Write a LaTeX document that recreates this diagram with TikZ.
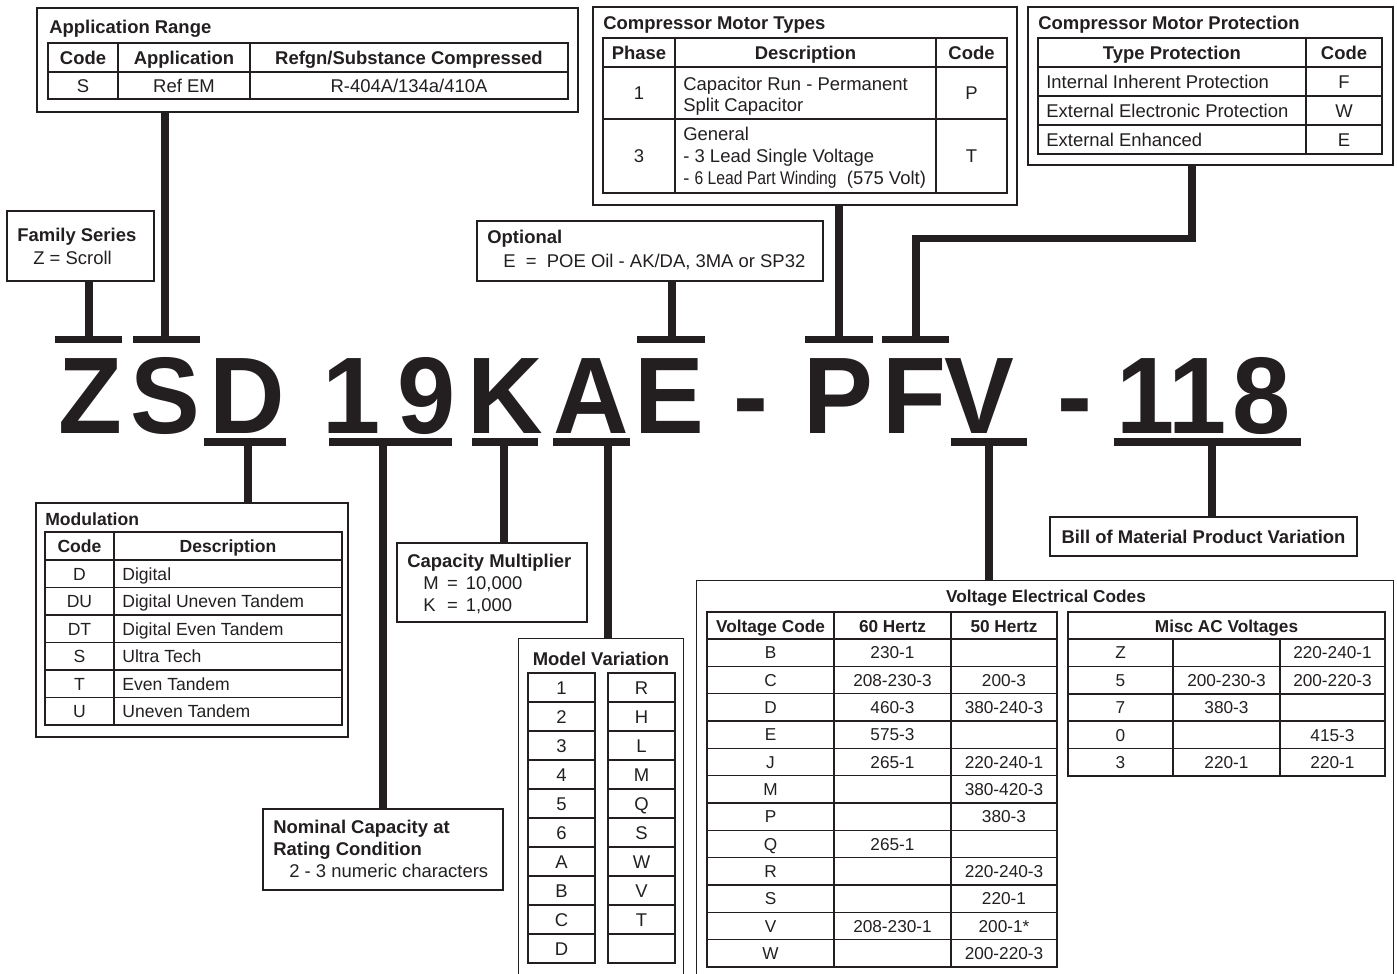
\documentclass[tikz,border=0pt]{standalone}
\usepackage{fontspec}
\setmainfont{Liberation Sans}
\newfontfamily\narrowfont[FakeStretch=0.85]{Liberation Sans}
\newfontfamily\partfont[FakeStretch=0.96]{Liberation Sans}
\usetikzlibrary{fit}
\definecolor{ink}{RGB}{35,31,32}
\newcommand{\normsize}{\fontsize{10.5}{12.6}\selectfont}
\newcommand{\modsize}{\fontsize{10}{12}\selectfont}
\newcommand{\voltsize}{\fontsize{9.8}{11.8}\selectfont}
\newcommand{\bigsize}{\partfont\fontsize{62}{62}\selectfont}
\tikzset{
  every node/.style={inner sep=0pt, text=ink},
  box/.style={draw=ink, line width=0.9pt, inner sep=0pt},
  tabline/.style={draw=ink, line width=0.9pt},
  lead/.style={draw=ink, line width=4.5pt},
  txt/.style={anchor=base west, font=\normsize},
  ttl/.style={anchor=base west, font=\normsize\bfseries},
  cell/.style={anchor=base, font=\normsize},
  hcell/.style={anchor=base, font=\normsize\bfseries},
  bigch/.style={anchor=base, font=\bigsize\bfseries}
}

\begin{document}
\begin{tikzpicture}[x=0.02cm, y=-0.02cm]
\useasboundingbox (0,0) rectangle (1397,974);
%
% model number
\foreach \ch/\cx [count=\i] in {Z/90,S/165,D/247.5,1/352,9/426.5,K/505.5,A/591,E/669.5,-/751,P/838.5,F/914,V/979.5,-/1075,1/1146,1/1198,8/1261.5}
  \node[bigch] (ch\i) at (\cx,433) {\ch};
%
\coordinate (tZ) at (89,339.5);
\coordinate (tS) at (165,339.5);
\coordinate (tE) at (672,339.5);
\coordinate (tP) at (839,339.5);
\coordinate (tF) at (916,339.5);
\coordinate (jog) at (1192,238.5);
\coordinate (uD) at (248,442);
\coordinate (u19) at (383,442);
\coordinate (uK) at (504,442);
\coordinate (uA) at (608,442);
\coordinate (uV) at (989,442);
\coordinate (u118) at (1212,442);
\foreach \a/\b in {55/122,133/200,637/705,805/873,882/949}
  \draw[lead] (\a,339.5) -- (\b,339.5);
\foreach \a/\b in {204/286,329/452,472/538,553/630,951/1027,1114/1301}
  \draw[lead] (\a,442) -- (\b,442);
%
% boxes
\node[box, fit={(37,8) (578,112)}] (apprange) {};
\node[box, fit={(593,7) (1017,205)}] (cmtypes) {};
\node[box, fit={(1028,7) (1393,165)}] (cmprot) {};
\node[box, fit={(7,211) (154,281)}] (family) {};
\node[box, fit={(477,221) (823,281)}] (optional) {};
\node[box, fit={(36,503) (348,737)}] (modul) {};
\node[box, fit={(397,543) (587,622)}] (capmult) {};
\node[box, fit={(263,809) (503,890)}] (nominal) {};
\node[box, fit={(1050,517) (1357,556)}] (bom) {};
\node[fit={(519,639) (683,974)}] (modvar) {};
\node[fit={(697,581) (1393,974)}] (voltage) {};
\draw[tabline] (modvar.south west) -- (modvar.north west) -- (modvar.north east) -- (modvar.south east);
\draw[tabline] (voltage.south west) -- (voltage.north west) -- (voltage.north east) -- (voltage.south east);
%
% leads
\draw[lead] (family.south -| tZ) -- (tZ);
\draw[lead] (apprange.south -| tS) -- (tS);
\draw[lead] (optional.south -| tE) -- (tE);
\draw[lead] (cmtypes.south -| tP) -- (tP);
\draw[lead] (cmprot.south -| jog) -- (jog) -| (tF);
\draw[lead] (uD) -- (uD |- modul.north);
\draw[lead] (u19) -- (u19 |- nominal.north);
\draw[lead] (uK) -- (uK |- capmult.north);
\draw[lead] (uA) -- (uA |- modvar.north);
\draw[lead] (uV) -- (uV |- voltage.north);
\draw[lead] (u118) -- (u118 |- bom.north);
%
% application range
\node[ttl] (app-t) at (49,33) {Application Range};
\draw[tabline] (48,43) rectangle (568,99) (48,72) -- (568,72) (118,43) -- (118,99) (250,43) -- (250,99);
\node[hcell] (app-h1) at (83,64) {Code};
\node[hcell] (app-h2) at (184,64) {Application};
\node[hcell] (app-h3) at (409,64) {Refgn/Substance Compressed};
\node[cell] (app-c1) at (83,92) {S};
\node[cell] (app-c2) at (184,92) {Ref EM};
\node[cell] (app-c3) at (409,92) {R-404A/134a/410A};
%
% compressor motor types
\node[ttl] (cmt-t) at (603,29) {Compressor Motor Types};
\draw[tabline] (603,38) rectangle (1007,193) (603,67) -- (1007,67) (603,119) -- (1007,119) (675,38) -- (675,193) (936,38) -- (936,193);
\node[hcell] (cmt-h1) at (639,59) {Phase};
\node[hcell] (cmt-h2) at (805.5,59) {Description};
\node[hcell] (cmt-h3) at (971.5,59) {Code};
\node[cell] (cmt-p1) at (639,99.5) {1};
\node[cell] (cmt-c1) at (971.5,99.5) {P};
\node[txt] (cmt-d1) at (683,90) {Capacitor Run - Permanent};
\node[txt] (cmt-d2) at (683,111) {Split Capacitor};
\node[cell] (cmt-p2) at (639,162.5) {3};
\node[cell] (cmt-c2) at (971.5,162.5) {T};
\node[txt] (cmt-d3) at (683,140) {General};
\node[txt] (cmt-d4) at (683,162) {- 3 Lead Single Voltage};
\node[txt] (cmt-d5) at (683,184) {- {\narrowfont 6 Lead Part Winding}~~(575 Volt)};
%
% compressor motor protection
\node[ttl] (cmp-t) at (1038,29) {Compressor Motor Protection};
\draw[tabline] (1038,38) rectangle (1382,154) (1306,38) -- (1306,154);
\foreach \yy in {67,96,125}
  \draw[tabline] (1038,\yy) -- (1382,\yy);
\node[hcell] (cmp-h1) at (1172,59) {Type Protection};
\node[hcell] (cmp-h2) at (1344,59) {Code};
\foreach \d/\c/\yy [count=\i] in {Internal Inherent Protection/F/88,External Electronic Protection/W/117,External Enhanced/E/146}{
  \node[txt] (cmp-d\i) at (1046,\yy) {\d};
  \node[cell] (cmp-c\i) at (1344,\yy) {\c};
}
%
% family series, optional
\node[ttl] (fam-t) at (17,241) {Family Series};
\node[txt] (fam-z) at (33,264) {Z = Scroll};
\node[ttl] (opt-t) at (487,243) {Optional};
\node[txt] (opt-e) at (503,267) {E~~=~~POE Oil - AK/DA, 3MA or SP32};
%
% modulation
\node[ttl, font=\modsize\bfseries] (mod-t) at (45,525) {Modulation};
\draw[tabline] (45,532) rectangle (342,725) (114,532) -- (114,725);
\foreach \yy in {560,587.5,615,642.5,670,697.5}
  \draw[tabline] (45,\yy) -- (342,\yy);
\node[hcell, font=\modsize\bfseries] (mod-h1) at (79.5,552.5) {Code};
\node[hcell, font=\modsize\bfseries] (mod-h2) at (228,552.5) {Description};
\foreach \c/\d [count=\k from 0] in {D/Digital,DU/Digital Uneven Tandem,DT/Digital Even Tandem,S/Ultra Tech,T/Even Tandem,U/Uneven Tandem}{
  \node[cell, font=\modsize] (mod-c\k) at (79.5,{580+27.5*\k}) {\c};
  \node[txt, font=\modsize] (mod-d\k) at (122,{580+27.5*\k}) {\d};
}
%
% capacity multiplier, nominal capacity
\node[ttl] (cap-t) at (407,567) {Capacity Multiplier};
\node[txt] (cap-m) at (423,589) {\makebox[13.6pt][l]{M}=\hspace{4.5pt}10,000};
\node[txt] (cap-k) at (423,611) {\makebox[13.6pt][l]{K}=\hspace{4.5pt}1,000};
\node[ttl] (nom-t1) at (273,833) {Nominal Capacity at};
\node[ttl] (nom-t2) at (273,855) {Rating Condition};
\node[txt] (nom-d) at (289,877) {2 - 3 numeric characters};
%
% model variation
\node[hcell] (mv-t) at (601,665) {Model Variation};
\draw[tabline] (528,673) rectangle (595,963) (608,673) rectangle (675,963);
\foreach \k in {1,...,9}
  \draw[tabline] (528,{673+29*\k}) -- (595,{673+29*\k}) (608,{673+29*\k}) -- (675,{673+29*\k});
\foreach \l [count=\k from 0] in {1,2,3,4,5,6,A,B,C,D}
  \node[cell] (mv-l\k) at (561.5,{694+29*\k}) {\l};
\foreach \r [count=\k from 0] in {R,H,L,M,Q,S,W,V,T}
  \node[cell] (mv-r\k) at (641.5,{694+29*\k}) {\r};
%
% voltage electrical codes
\node[hcell, font=\voltsize\bfseries] (vc-t) at (1046,602) {Voltage Electrical Codes};
\draw[tabline] (707,612) rectangle (1057,967) (834,612) -- (834,967) (951,612) -- (951,967);
\foreach \k in {0,...,11}
  \draw[tabline] (707,{639+27.33*\k}) -- (1057,{639+27.33*\k});
\node[hcell, font=\voltsize\bfseries] (vc-h1) at (770.5,632) {Voltage Code};
\node[hcell, font=\voltsize\bfseries] (vc-h2) at (892.5,632) {60 Hertz};
\node[hcell, font=\voltsize\bfseries] (vc-h3) at (1004,632) {50 Hertz};
\foreach \c [count=\k from 0] in {B,C,D,E,J,M,P,Q,R,S,V,W}
  \node[cell, font=\voltsize] (vc-c\k) at (770.5,{658.9+27.33*\k}) {\c};
\foreach \k/\v in {0/230-1,1/208-230-3,2/460-3,3/575-3,4/265-1,7/265-1,10/208-230-1}
  \node[cell, font=\voltsize] (vc-s\k) at (892.5,{658.9+27.33*\k}) {\v};
\foreach \k/\v in {1/200-3,2/380-240-3,4/220-240-1,5/380-420-3,6/380-3,8/220-240-3,9/220-1,10/200-1*,11/200-220-3}
  \node[cell, font=\voltsize] (vc-f\k) at (1004,{658.9+27.33*\k}) {\v};
%
\draw[tabline] (1068,612) rectangle (1385,776) (1173,639) -- (1173,776) (1280,639) -- (1280,776);
\foreach \k in {0,...,4}
  \draw[tabline] (1068,{639+27.4*\k}) -- (1385,{639+27.4*\k});
\node[hcell, font=\voltsize\bfseries] (ma-h) at (1226.5,632) {Misc AC Voltages};
\foreach \c [count=\k from 0] in {Z,5,7,0,3}
  \node[cell, font=\voltsize] (ma-c\k) at (1120.5,{658.9+27.4*\k}) {\c};
\foreach \k/\v in {1/200-230-3,2/380-3,4/220-1}
  \node[cell, font=\voltsize] (ma-s\k) at (1226.5,{658.9+27.4*\k}) {\v};
\foreach \k/\v in {0/220-240-1,1/200-220-3,3/415-3,4/220-1}
  \node[cell, font=\voltsize] (ma-f\k) at (1332.5,{658.9+27.4*\k}) {\v};
%
% bill of material
\node[hcell] (bom-t) at (1203.5,543) {Bill of Material Product Variation};
\end{tikzpicture}
\end{document}
